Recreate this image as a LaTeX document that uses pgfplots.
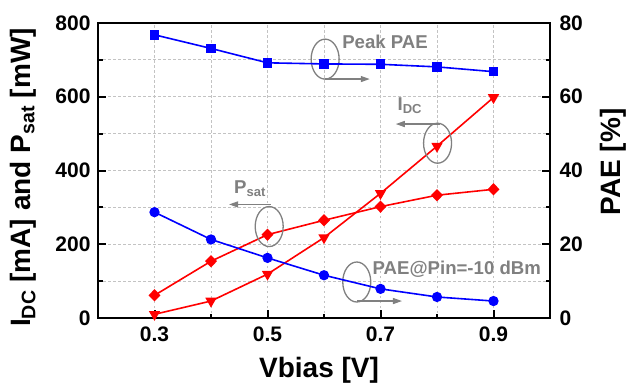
\documentclass[border=0pt]{standalone}
\usepackage{fontspec}
\setmainfont{Liberation Sans}
\usepackage{pgfplots}
\pgfplotsset{compat=1.18}
\usetikzlibrary{arrows.meta}
\definecolor{annot}{RGB}{128,128,128}
\definecolor{gridc}{RGB}{195,195,195}
\newcommand{\tickfont}{\fontsize{21}{21}\selectfont\bfseries}
\newcommand{\labfont}{\fontsize{28}{28}\selectfont\bfseries}
\newcommand{\annfont}{\fontsize{18.6}{18.6}\selectfont\bfseries}
\pgfplotsset{
  common/.style={
    scale only axis, width=452pt, height=295pt,
    xmin=0.2, xmax=1.0,
    tick label style={font=\tickfont},
    /pgf/number format/assume math mode=true,
    tick align=inside,
    major tick length=8pt, minor tick length=4.5pt,
    every tick/.style={black, line width=2pt},
    every minor tick/.style={black, line width=2pt},
    axis line style={line width=2.5pt},
    label style={font=\labfont},
  }
}
\begin{document}
\begin{tikzpicture}
\begin{axis}[common,
  ymin=0, ymax=800,
  ytick={0,200,...,800}, minor ytick={100,300,500,700},
  xtick={0.3,0.5,0.7,0.9}, minor xtick={0.4,0.6,0.8},
  xtick pos=bottom, ytick pos=left,
  grid=both,
  grid style={gridc, line width=0.8pt, dash pattern=on 2.5pt off 2.5pt},
  minor grid style={gridc, line width=0.8pt, dash pattern=on 2.5pt off 2.5pt},
  xticklabel style={/pgf/number format/fixed, /pgf/number format/precision=1, /pgf/number format/fixed zerofill, yshift=-5pt},
  yticklabel style={xshift=-4pt},
  xlabel={Vbias [V]},
  xlabel style={at={(axis description cs:0.489,-0.2)}, anchor=base},
  ylabel={I\textsubscript{DC} [mA] and P\textsubscript{sat} [mW]},
  ylabel style={at={(axis description cs:-0.1659,0.4763)}, anchor=center},
]
\coordinate (sw) at (rel axis cs:0,0);
\coordinate (ne) at (rel axis cs:1,1);
% I_DC
\addplot[red, line width=1.6pt, mark=triangle*, mark size=5pt, mark options={rotate=180}]
  coordinates {(0.3,10) (0.4,46) (0.5,119) (0.6,218) (0.7,338) (0.8,466) (0.9,598)};
% P_sat
\addplot[red, line width=1.6pt, mark=diamond*, mark size=5pt, mark options={xscale=1.3}]
  coordinates {(0.3,61.5) (0.4,154) (0.5,226) (0.6,265) (0.7,302) (0.8,333) (0.9,349)};
% annotations
\node[annot, font=\annfont] at (axis cs:0.708,748) {Peak PAE};
\draw[annot, line width=1.3pt] (axis cs:0.602,702) ellipse [x radius=14pt, y radius=20pt];
\draw[annot, line width=1.3pt, -{Triangle[length=9pt,width=6pt]}] (axis cs:0.602,648) -- (axis cs:0.681,648);
\node[annot, font=\annfont] at (axis cs:0.752,575) {I\textsubscript{DC}};
\draw[annot, line width=1.3pt] (axis cs:0.801,474) ellipse [x radius=14pt, y radius=20pt];
\draw[annot, line width=1.3pt, -{Triangle[length=9pt,width=6pt]}] (axis cs:0.805,526) -- (axis cs:0.727,526);
\node[annot, font=\annfont] at (axis cs:0.469,350) {P\textsubscript{sat}};
\draw[annot, line width=1.3pt] (axis cs:0.503,248) ellipse [x radius=14pt, y radius=20pt];
\draw[annot, line width=1.3pt, -{Triangle[length=9pt,width=6pt]}] (axis cs:0.506,308) -- (axis cs:0.432,308);
\node[annot, font=\annfont] at (axis cs:0.835,131.5) {PAE@Pin=-10 dBm};
\draw[annot, line width=1.3pt] (axis cs:0.658,97.6) ellipse [x radius=14pt, y radius=20pt];
\draw[annot, line width=1.3pt, -{Triangle[length=9pt,width=6pt]}] (axis cs:0.658,46) -- (axis cs:0.738,46);
\end{axis}
\begin{axis}[common,
  ymin=0, ymax=80,
  axis y line*=right, axis x line=none,
  ytick={0,20,...,80}, minor ytick={10,30,50,70},
  yticklabel style={xshift=6pt},
  ylabel={PAE [\%]},
  ylabel style={at={(axis description cs:1.1394,0.5288)}, anchor=center},
]
\addplot[blue, line width=1.6pt, mark=square*, mark size=4pt]
  coordinates {(0.3,76.8) (0.4,73.1) (0.5,69.2) (0.6,68.9) (0.7,68.8) (0.8,68.1) (0.9,66.8)};
\addplot[blue, line width=1.6pt, mark=*, mark size=4.3pt]
  coordinates {(0.3,28.7) (0.4,21.3) (0.5,16.3) (0.6,11.6) (0.7,7.9) (0.8,5.7) (0.9,4.6)};
\end{axis}
\pgfresetboundingbox
\path[use as bounding box] ([shift={(-98pt,-69pt)}]sw) rectangle ([shift={(78pt,23pt)}]ne);
\end{tikzpicture}
\end{document}
